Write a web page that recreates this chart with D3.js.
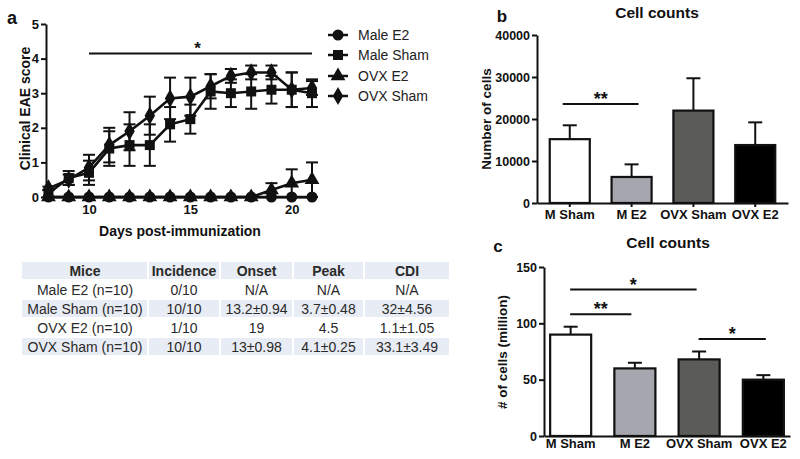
<!DOCTYPE html>
<html><head><meta charset="utf-8">
<script src="https://cdn.jsdelivr.net/npm/d3@7"></script>
<style>
body{margin:0;background:#fff;}
svg text{font-family:"Liberation Sans",Arial,sans-serif;}
</style></head>
<body><svg id="c" width="800" height="459"></svg>
<script>
// ---------- DATA ----------
const days = [8,9,10,11,12,13,14,15,16,17,18,19,20,21];
const seriesNames = ["Male E2","Male Sham","OVX E2","OVX Sham"];
const maleE2     = [0,0,0,0,0,0,0,0,0,0,0,0,0,0];
const maleE2Err  = [0,0,0,0,0,0,0,0,0,0,0,0,0,0];
const maleSham   = [0.1,0.55,0.7,1.4,1.5,1.5,2.1,2.25,3.05,3.0,3.05,3.1,3.1,3.0];
const maleShamErr= [0.1,0.2,0.35,0.5,0.6,0.6,0.5,0.42,0.5,0.4,0.5,0.4,0.5,0.4];
const ovxE2      = [0,0,0,0,0,0,0,0,0,0,0,0.2,0.4,0.5];
const ovxE2Err   = [0,0,0,0,0,0,0,0,0,0,0,0.2,0.4,0.5];
const ovxSham    = [0.25,0.5,0.85,1.5,1.9,2.35,2.85,2.9,3.2,3.5,3.6,3.6,3.1,3.15];
const ovxShamErr = [0.05,0.15,0.37,0.5,0.55,0.55,0.6,0.55,0.35,0.2,0.2,0.2,0.5,0.2];
const scoreTicks = [0,1,2,3,4,5];
const dayTicks = [10,15,20];

const tableHeader = ["Mice","Incidence","Onset","Peak","CDI"];
const tableRows = [
  ["Male E2 (n=10)","0/10","N/A","N/A","N/A"],
  ["Male Sham (n=10)","10/10","13.2±0.94","3.7±0.48","32±4.56"],
  ["OVX E2 (n=10)","1/10","19","4.5","1.1±1.05"],
  ["OVX Sham (n=10)","10/10","13±0.98","4.1±0.25","33.1±3.49"]
];

const groups = ["M Sham","M E2","OVX Sham","OVX E2"];
const countsB = [15200,6200,22000,13800];
const countsBErr = [3300,3000,7700,5400];
const ticksB = [0,10000,20000,30000,40000];
const countsC = [90,60,68,50];
const countsCErr = [7,5,7,4];
const ticksC = [0,50,100,150];

// ---------- SETUP ----------
const svg = d3.select("#c");
const FONT = '"Liberation Sans",Arial,sans-serif';
const ink = "#111";

function label(g, x, y, txt, size, weight, anchor, rot){
  const t = g.append("text").attr("x",x).attr("y",y).text(txt)
    .attr("font-size",size).attr("font-weight",weight||"normal")
    .attr("text-anchor",anchor||"middle").attr("fill",ink);
  if(rot) t.attr("transform",`rotate(${rot},${x},${y})`);
  return t;
}
function styleAxis(g, fs){
  g.selectAll("path").attr("stroke",ink).attr("stroke-width",2);
  g.selectAll("line").attr("stroke",ink).attr("stroke-width",2);
  g.selectAll("text").attr("font-size",fs).attr("font-weight","bold")
    .attr("fill",ink).attr("font-family",FONT);
}

// ---------- PANEL A ----------
const xA = d3.scaleLinear().domain([7.88,21]).range([46,312]);
const yA = d3.scaleLinear().domain([0,5]).range([197,24]);
const gA = svg.append("g");

const gyA = gA.append("g").attr("transform",`translate(${xA.range()[0]},0)`)
  .call(d3.axisLeft(yA).tickValues(scoreTicks).tickFormat(d3.format("d")).tickSize(5).tickPadding(2).tickSizeOuter(0));
styleAxis(gyA,13);
const gxA = gA.append("g").attr("transform",`translate(0,${yA(0)})`)
  .call(d3.axisBottom(xA).tickValues(dayTicks).tickSize(4).tickPadding(4).tickSizeOuter(0));
styleAxis(gxA,13);

label(gA,12,24,"a",18,"bold");
label(gA,30,yA(2.5)-2,"Clinical EAE score",14,"bold","middle",-90);
label(gA,180,236,"Days post-immunization",14,"bold");

const series = [
  {v:maleE2,e:maleE2Err,sym:d3.symbolCircle,size:95},
  {v:maleSham,e:maleShamErr,sym:d3.symbolSquare,size:100},
  {v:ovxE2,e:ovxE2Err,sym:d3.symbolTriangle,size:95},
  {v:ovxSham,e:ovxShamErr,sym:d3.symbolDiamond,size:95}
];
const line = d3.line().x((d,i)=>xA(days[i])).y(d=>yA(d));
series.forEach(s=>{
  const g = gA.append("g");
  g.append("path").attr("d",line(s.v)).attr("fill","none").attr("stroke",ink).attr("stroke-width",2.6);
  s.v.forEach((v,i)=>{
    const e = s.e[i]; if(!e) return;
    const x = xA(days[i]), y1 = yA(v+e), y2 = yA(Math.max(0,v-e));
    g.append("line").attr("x1",x).attr("x2",x).attr("y1",y1).attr("y2",y2).attr("stroke",ink).attr("stroke-width",2);
    [y1,y2].forEach(yy=>g.append("line").attr("x1",x-6).attr("x2",x+6).attr("y1",yy).attr("y2",yy).attr("stroke",ink).attr("stroke-width",2));
  });
});
series.forEach(s=>{
  gA.append("g").selectAll("path").data(s.v).join("path")
    .attr("d",d3.symbol().type(s.sym).size(s.size))
    .attr("transform",(d,i)=>`translate(${xA(days[i])},${yA(d)})`)
    .attr("fill",ink);
});
// significance
gA.append("line").attr("x1",xA(10)).attr("x2",xA(21)).attr("y1",yA(4.15)).attr("y2",yA(4.15)).attr("stroke",ink).attr("stroke-width",2);
label(gA,(xA(10)+xA(21))/2-3,yA(4.15)+1,"*",17,"bold");

// legend
const legY = [35,55,76,96];
series.forEach((s,i)=>{
  const g = gA.append("g").attr("transform",`translate(0,${legY[i]})`);
  g.append("line").attr("x1",328).attr("x2",348).attr("y1",0).attr("y2",0).attr("stroke",ink).attr("stroke-width",2.5);
  g.append("path").attr("d",d3.symbol().type(s.sym).size(s.size)).attr("transform","translate(338,0)").attr("fill",ink);
  label(g,358,5,seriesNames[i],14,"normal","start").attr("fill","#222");
});

// ---------- TABLE ----------
const colEdges = [22,148,220,293,364,450];
const rowTop = 262, rowH = 19;
const gT = svg.append("g");
const allRows = [tableHeader].concat(tableRows);
allRows.forEach((r,ri)=>{
  const shaded = ri%2===0;
  r.forEach((c,ci)=>{
    const x0 = colEdges[ci], x1 = colEdges[ci+1];
    if(shaded) gT.append("rect").attr("x",x0+(ci?1:0)).attr("y",rowTop+ri*rowH)
      .attr("width",x1-x0-(ci?1:0)-1).attr("height",rowH-2).attr("fill","#e8ecf4");
    label(gT,(x0+x1)/2,rowTop+ri*rowH+14,c,14,ri===0?"bold":"normal").attr("fill","#2a2a2a");
  });
});

// ---------- BAR PANELS ----------
const fills = ["#ffffff","#a6a6ae","#5b5b58","#000000"];
function barPanel(cfg){
  const g = svg.append("g");
  const x = d3.scaleBand().domain(groups).range(cfg.xr).paddingInner(cfg.pi).paddingOuter(cfg.po);
  const y = d3.scaleLinear().domain(cfg.yd).range(cfg.yr);
  // error bars
  cfg.vals.forEach((v,i)=>{
    const cx = x(groups[i])+x.bandwidth()/2;
    g.append("line").attr("x1",cx).attr("x2",cx).attr("y1",y(v)).attr("y2",y(v+cfg.errs[i])).attr("stroke",ink).attr("stroke-width",2);
    g.append("line").attr("x1",cx-7).attr("x2",cx+7).attr("y1",y(v+cfg.errs[i])).attr("y2",y(v+cfg.errs[i])).attr("stroke",ink).attr("stroke-width",2);
  });
  g.selectAll("rect.bar").data(cfg.vals).join("rect").attr("class","bar")
    .attr("x",(d,i)=>x(groups[i])+1).attr("width",x.bandwidth()-2)
    .attr("y",d=>y(d)).attr("height",d=>y(0)-y(d))
    .attr("fill",(d,i)=>fills[i]).attr("stroke",ink).attr("stroke-width",2.2);
  const gy = g.append("g").attr("transform",`translate(${cfg.xr[0]},0)`)
    .call(d3.axisLeft(y).tickValues(cfg.ticks).tickFormat(d3.format("d")).tickSize(5).tickPadding(2).tickSizeOuter(0));
  styleAxis(gy,12.5);
  const gx = g.append("g").attr("transform",`translate(0,${y(0)})`)
    .call(d3.axisBottom(x).tickSize(cfg.xtick).tickPadding(cfg.xpad).tickSizeOuter(0));
  styleAxis(gx,13);
  label(g,cfg.panelPos[0],cfg.panelPos[1],cfg.panel,17,"bold");
  label(g,cfg.titlePos[0],cfg.titlePos[1],"Cell counts",15.5,"bold");
  label(g,cfg.ylabPos[0],cfg.ylabPos[1],cfg.ylab,13.5,"bold","middle",-90);
  cfg.sig.forEach(s=>{
    const xa = x(groups[s.a])+ (s.ao||0), xb = x(groups[s.b])+ (s.bo||0);
    g.append("line").attr("x1",xa).attr("x2",xb).attr("y1",y(s.y)).attr("y2",y(s.y)).attr("stroke",ink).attr("stroke-width",2);
    label(g,(xa+xb)/2,y(s.y)+1,s.t,18,"bold");
  });
}
barPanel({xr:[537,788],pi:0.32,po:0.19,yd:[0,40000],yr:[203,35],vals:countsB,errs:countsBErr,ticks:ticksB,xtick:4,xpad:3,
  panel:"b",panelPos:[502,22],titlePos:[657,18],ylab:"Number of cells",ylabPos:[491,119],
  sig:[{a:0,ao:14,b:1,bo:28,y:23600,t:"**"}]});
barPanel({xr:[544,790],pi:0.33,po:0.08,yd:[0,150],yr:[436,267],vals:countsC,errs:countsCErr,ticks:ticksC,xtick:0,xpad:3,
  panel:"c",panelPos:[498,252],titlePos:[668,248],ylab:"# of cells (million)",ylabPos:[507,352],
  sig:[{a:0,ao:21,b:2,bo:19,y:130,t:"*"},{a:0,ao:21,b:1,bo:18,y:108,t:"**"},{a:2,ao:21,b:3,bo:24,y:86,t:"*"}]});
</script></body></html>
